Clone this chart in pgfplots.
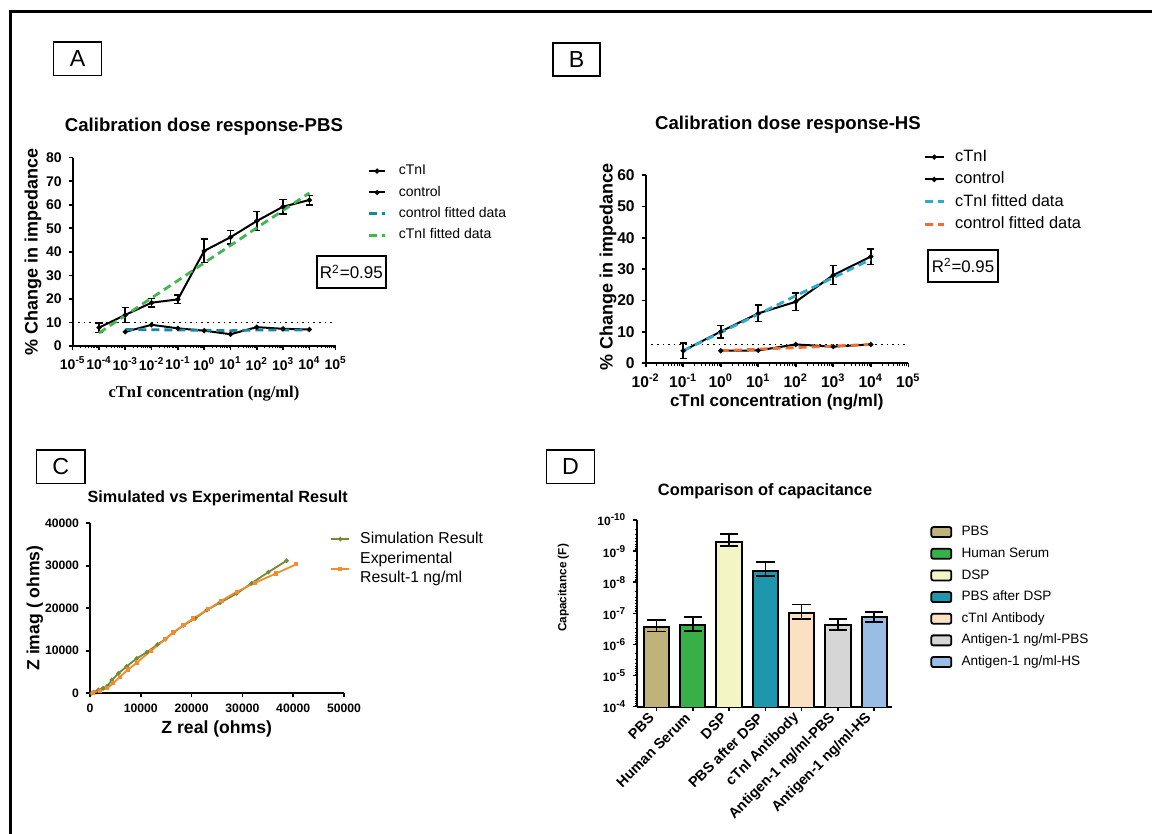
\documentclass[border=0pt]{standalone}
\usepackage{fontspec}
\setmainfont{Liberation Sans}
\newfontfamily\timesfont{Liberation Serif}
\usepackage{pgfplots}
\pgfplotsset{compat=1.18}
\definecolor{fitAgreen}{RGB}{64,184,77}
\definecolor{fitAblue}{RGB}{27,133,163}
\definecolor{fitBblue}{RGB}{45,170,205}
\definecolor{fitBorange}{RGB}{243,108,45}
\definecolor{simgreen}{RGB}{110,140,50}
\definecolor{exporange}{RGB}{247,137,47}
\definecolor{cPBS}{RGB}{191,178,122}
\definecolor{cHS}{RGB}{56,176,72}
\definecolor{cDSP}{RGB}{244,245,196}
\definecolor{cPBSDSP}{RGB}{30,150,172}
\definecolor{cAb}{RGB}{252,224,196}
\definecolor{cAgPBS}{RGB}{214,214,214}
\definecolor{cAgHS}{RGB}{153,189,228}
\newcommand{\fs}[1]{\fontsize{#1}{#1}\selectfont}
% minor tick lists for the log axes
\def\minorA{}
\foreach \e in {-5,...,4}{\foreach \m in {2,...,9}{\xdef\minorA{\minorA\m e\e,}}}
\def\minorB{}
\foreach \e in {-2,...,4}{\foreach \m in {2,...,9}{\xdef\minorB{\minorB\m e\e,}}}
\def\minorD{}
\foreach \e in {-10,...,-5}{\foreach \m in {2,...,9}{\xdef\minorD{\minorD\m e\e,}}}
\pgfplotsset{
  every axis title shift=0pt,
  gp/.style={
    scale only axis, anchor=south west,
    axis lines*=left, axis line style={line width=1pt},
    tick align=outside, major tick length=2pt, minor tick length=1.2pt,
    tick style={black, line width=0.8pt}, minor tick style={line width=0.5pt},
    legend cell align=left,
    /pgf/number format/assume math mode=true,
  },
  ebar/.style={error bars/.cd, y dir=both, y explicit,
    error bar style={line width=0.8pt, black},
    error mark options={rotate=90, line width=0.8pt, mark size=#1, black}},
  ebar/.default=1.8pt,
  lineleg/.style={legend image code/.code={\draw[mark repeat=2,mark phase=2,##1] plot coordinates {(0pt,0pt) (#1/2,0pt) (#1,0pt)};}},
}
\begin{document}
\begin{tikzpicture}
\useasboundingbox (0,0) rectangle (576pt,417pt);
\fill[white] (0,0) rectangle (576pt,417pt);
\draw[line width=1.5pt] (5.25pt,0pt) -- (5.25pt,411.35pt) -- (576pt,411.35pt);
\node[draw, line width=0.6pt, minimum width=23.8pt, minimum height=16.65pt, inner sep=0pt, font=\fs{11.6}] at (38.75pt,387.7pt) {A};
\node[draw, line width=0.6pt, minimum width=23.5pt, minimum height=16.5pt, inner sep=0pt, font=\fs{11.6}] at (288.25pt,387.25pt) {B};
\node[draw, line width=0.6pt, minimum width=24.15pt, minimum height=16.65pt, inner sep=0pt, font=\fs{11.6}] at (30.4pt,183.7pt) {C};
\node[draw, line width=0.6pt, minimum width=23.9pt, minimum height=16.65pt, inner sep=0pt, font=\fs{11.6}] at (285.2pt,183.7pt) {D};

% ---------------- Panel A ----------------
\begin{axis}[gp,
  at={(36.35pt,244pt)}, width=131.5pt, height=94.15pt,
  xmode=log, xmin=1e-5, xmax=1e5, ymin=0, ymax=80,
  xtick={1e-5,1e-4,1e-3,1e-2,1e-1,1,10,100,1000,1e4,1e5},
  minor xtick/.expanded={\minorA 9e4},
  xticklabels={10\textsuperscript{-5},10\textsuperscript{-4},10\textsuperscript{-3},10\textsuperscript{-2},10\textsuperscript{-1},10\textsuperscript{0},10\textsuperscript{1},10\textsuperscript{2},10\textsuperscript{3},10\textsuperscript{4},10\textsuperscript{5}},
  ytick={0,10,...,80},
  tick label style={font=\bfseries\fs{7}},
  xticklabel style={inner xsep=0pt},
  title={Calibration dose response-PBS},
  title style={font=\bfseries\fs{9.3}, at={(axis description cs:0.499,1.163)}, anchor=center, yshift=0pt},
  xlabel={cTnI concentration (ng/ml)},
  xlabel style={font=\timesfont\bfseries\fs{8.25}, at={(axis description cs:0.499,-0.251)}, anchor=center},
  ylabel={\% Change in impedance},
  ylabel style={font=\bfseries\fs{9}, at={(axis description cs:-0.151,0.499)}, anchor=center},
  lineleg=8.3pt,
  legend style={at={(1.119,0.9666)}, anchor=north west, draw=none, fill=none, inner sep=0pt,
    row sep=4pt, column sep=6pt, font=\fs{7}, nodes={inner sep=0pt, text height=5.2pt, text depth=1.5pt}},
]
\addplot[black, line width=0.8pt, dash pattern=on 0.8pt off 2pt, forget plot] coordinates {(1e-5,10) (1e5,10)};
\addplot[black, line width=1pt, mark=*, mark size=0.7pt, ebar] coordinates {
  (1e-4,7.8) +- (0,2)
  (1e-3,13.2) +- (0,3.2)
  (1e-2,18.4) +- (0,1.8)
  (1e-1,19.8) +- (0,1.8)
  (1,40.4) +- (0,5)
  (10,46.2) +- (0,2.8)
  (100,53.1) +- (0,4)
  (1000,59.2) +- (0,3)
  (1e4,62) +- (0,2)
};
\addlegendentry{cTnI}
\addplot[black, line width=1pt, mark=*, mark size=0.7pt] coordinates {
  (1e-3,6) (1e-2,9) (1e-1,7.5) (1,6.5) (10,5) (100,8) (1000,7.3) (1e4,7)
};
\addlegendentry{control}
\addplot[fitAblue, line width=1.4pt, dash pattern=on 4pt off 2.5pt] coordinates {
  (1e-3,7.0) (1e-2,6.9) (1e-1,6.8) (1,6.7) (10,6.5) (100,6.8) (1000,6.8) (1e4,6.8)
};
\addlegendentry{control fitted data}
\addplot[fitAgreen, line width=1.4pt, dash pattern=on 4pt off 2.5pt] coordinates {
  (1e-4,5.5) (1e-3,13) (1e-2,20.4) (1e-1,27.8) (1,35.3) (10,42.7) (100,50.2) (1000,57.6) (1e4,65)
};
\addlegendentry{cTnI fitted data}
\end{axis}
\node[draw, line width=1pt, minimum width=34.65pt, minimum height=16.15pt, inner sep=0pt, font=\fs{8.5}] at (175.7pt,281.1pt) {R\textsuperscript{2}=0.95};

% ---------------- Panel B ----------------
\begin{axis}[gp,
  at={(322.85pt,235.35pt)}, width=131.3pt, height=94.15pt,
  xmode=log, xmin=1e-2, xmax=1e5, ymin=0, ymax=60,
  xtick={1e-2,1e-1,1,10,100,1000,1e4,1e5},
  minor xtick/.expanded={\minorB 9e4},
  xticklabels={10\textsuperscript{-2},10\textsuperscript{-1},10\textsuperscript{0},10\textsuperscript{1},10\textsuperscript{2},10\textsuperscript{3},10\textsuperscript{4},10\textsuperscript{5}},
  ytick={0,10,...,60},
  tick label style={font=\bfseries\fs{7.8}},
  title={Calibration dose response-HS},
  title style={font=\bfseries\fs{9.3}, at={(axis description cs:0.542,1.266)}, anchor=center, yshift=0pt},
  xlabel={cTnI concentration (ng/ml)},
  xlabel style={font=\bfseries\fs{8.5}, at={(axis description cs:0.499,-0.204)}, anchor=center},
  ylabel={\% Change in impedance},
  ylabel style={font=\bfseries\fs{9}, at={(axis description cs:-0.144,0.511)}, anchor=center},
  lineleg=9.5pt,
  legend style={at={(1.056,1.138)}, anchor=north west, draw=none, fill=none, inner sep=0pt,
    row sep=3.5pt, column sep=5pt, font=\fs{8.2}, nodes={inner sep=0pt, text height=6pt, text depth=1.7pt}},
]
\addplot[black, line width=0.8pt, dash pattern=on 0.8pt off 2pt, forget plot] coordinates {(1e-2,6) (1e5,6)};
\addplot[black, line width=1pt, mark=*, mark size=0.7pt, ebar] coordinates {
  (1e-1,4.0) +- (0,2.5)
  (1,10.1) +- (0,2)
  (10,15.9) +- (0,2.6)
  (100,19.6) +- (0,2.8)
  (1000,28.1) +- (0,3)
  (1e4,34) +- (0,2.5)
};
\addlegendentry{cTnI}
\addplot[black, line width=1pt, mark=*, mark size=0.7pt] coordinates {
  (1,4.0) (10,4.1) (100,6.0) (1000,5.3) (1e4,6.0)
};
\addlegendentry{control}
\addplot[fitBblue, line width=1.4pt, dash pattern=on 4pt off 2.5pt] coordinates {
  (1e-1,4.0) (1,9.8) (10,15.6) (100,21.5) (1000,27.3) (1e4,33.1)
};
\addlegendentry{cTnI fitted data}
\addplot[fitBorange, line width=1.4pt, dash pattern=on 4pt off 2.5pt] coordinates {
  (1,4.0) (10,4.5) (100,5.0) (1000,5.5) (1e4,6.0)
};
\addlegendentry{control fitted data}
\end{axis}
\node[draw, line width=1pt, minimum width=35pt, minimum height=15.85pt, inner sep=0pt, font=\fs{8.4}] at (481.5pt,284.1pt) {R\textsuperscript{2}=0.95};

% ---------------- Panel C ----------------
\begin{axis}[gp,
  at={(45pt,70.35pt)}, width=127pt, height=85pt,
  axis line style={line width=0.8pt},
  xmin=0, xmax=50000, ymin=0, ymax=40000,
  xtick={0,10000,...,50000}, ytick={0,10000,...,40000},
  scaled ticks=false, /pgf/number format/1000 sep={},
  tick label style={font=\bfseries\fs{6.1}},
  title={Simulated vs Experimental Result},
  title style={font=\bfseries\fs{8.1}, at={(axis description cs:0.503,1.147)}, anchor=center, yshift=0pt},
  xlabel={Z real (ohms)},
  xlabel style={font=\bfseries\fs{8.8}, at={(axis description cs:0.499,-0.212)}, anchor=center},
  ylabel={Z imag ( ohms)},
  ylabel style={font=\bfseries\fs{8.8}, at={(axis description cs:-0.217,0.502)}, anchor=center},
  lineleg=9pt,
  legend style={at={(0.945,0.952)}, anchor=north west, draw=none, fill=none, inner sep=0pt,
    row sep=3pt, column sep=5pt, font=\fontsize{7.9}{9.2}\selectfont, nodes={inner sep=0pt, align=left}},
]
\addplot[simgreen, line width=0.9pt, mark=*, mark size=0.6pt] coordinates {
  (330,0) (650,250) (1640,800) (2600,1200) (3400,1700) (4300,3100) (5600,4700) (7200,6300)
  (9200,8200) (11200,9650) (13300,11500) (14800,12700) (16400,14300) (18400,16000)
  (20700,17600) (23000,19600) (25600,21300) (28900,23500) (31800,25900) (35100,28500) (38700,31200)
};
\addlegendentry{Simulation Result}
\addplot[exporange, line width=0.9pt, mark=square*, mark size=0.6pt] coordinates {
  (650,150) (2000,630) (3300,1200) (4600,2350) (5900,3900) (7500,5600) (9200,7200)
  (12000,10000) (14800,12700) (16400,14300) (18400,16000) (20300,17600) (23300,19800)
  (25900,21800) (28900,23900) (32500,26000) (36600,28200) (40600,30350)
};
\addlegendentry{Experimental\\Result-1 ng/ml}
\end{axis}

% ---------------- Panel D ----------------
\begin{axis}[gp,
  at={(318.65pt,63.65pt)}, width=127.5pt, height=93.35pt,
  ymode=log, y dir=reverse, ymin=1e-10, ymax=1e-4,
  xmin=-0.53, xmax=6.5,
  ybar, bar width=12.65pt, bar shift=0pt,
  xtick={0,...,6},
  xticklabels={PBS,Human Serum,DSP,PBS after DSP,cTnI Antibody,Antigen-1 ng/ml-PBS,Antigen-1 ng/ml-HS},
  x tick label style={rotate=45, anchor=east, font=\bfseries\fs{7.2}},
  ytick={1e-10,1e-9,1e-8,1e-7,1e-6,1e-5,1e-4},
  minor ytick/.expanded={\minorD 9e-5},
  yticklabels={10\textsuperscript{-10},10\textsuperscript{-9},10\textsuperscript{-8},10\textsuperscript{-7},10\textsuperscript{-6},10\textsuperscript{-5},10\textsuperscript{-4}},
  y tick label style={font=\bfseries\fs{6}},
  title={Comparison of capacitance},
  title style={font=\bfseries\fs{8.2}, at={(axis description cs:0.501,1.152)}, anchor=center, yshift=0pt},
  ylabel={Capacitance (F)},
  ylabel style={font=\bfseries\fs{5.9}, at={(axis description cs:-0.29,0.636)}, anchor=center},
  legend image code/.code={\draw[#1, line width=0.9pt, draw=black, rounded corners=1pt] (0pt,-2.5pt) rectangle (10pt,2.5pt);},
  legend style={at={(1.148,0.9716)}, anchor=north west, draw=none, fill=none, inner sep=0pt,
    row sep=4.43pt, column sep=4.65pt, font=\fs{6.8}, nodes={inner sep=0pt, text height=5pt, text depth=1.4pt}},
]
\addplot[fill=cPBS, draw=black, line width=1pt, ebar=4.6pt] coordinates {(0,2.69e-7) += (0,1.2e-7) -= (0,1.07e-7)};
\addlegendentry{PBS}
\addplot[fill=cHS, draw=black, line width=1pt, ebar=4.6pt] coordinates {(1,2.34e-7) += (0,1.29e-7) -= (0,1.05e-7)};
\addlegendentry{Human Serum}
\addplot[fill=cDSP, draw=black, line width=1pt, ebar=4.6pt] coordinates {(2,5.0e-10) += (0,1.76e-10) -= (0,2.12e-10)};
\addlegendentry{DSP}
\addplot[fill=cPBSDSP, draw=black, line width=1pt, ebar=4.6pt] coordinates {(3,4.27e-9) += (0,2.04e-9) -= (0,2.08e-9)};
\addlegendentry{PBS after DSP}
\addplot[fill=cAb, draw=black, line width=1pt, ebar=4.6pt] coordinates {(4,1.0e-7) += (0,5.5e-8) -= (0,4.75e-8)};
\addlegendentry{cTnI Antibody}
\addplot[fill=cAgPBS, draw=black, line width=1pt, ebar=4.6pt] coordinates {(5,2.40e-7) += (0,1.07e-7) -= (0,0.85e-7)};
\addlegendentry{Antigen-1 ng/ml-PBS}
\addplot[fill=cAgHS, draw=black, line width=1pt, ebar=4.6pt] coordinates {(6,1.35e-7) += (0,0.51e-7) -= (0,0.46e-7)};
\addlegendentry{Antigen-1 ng/ml-HS}
\end{axis}
\end{tikzpicture}
\end{document}
